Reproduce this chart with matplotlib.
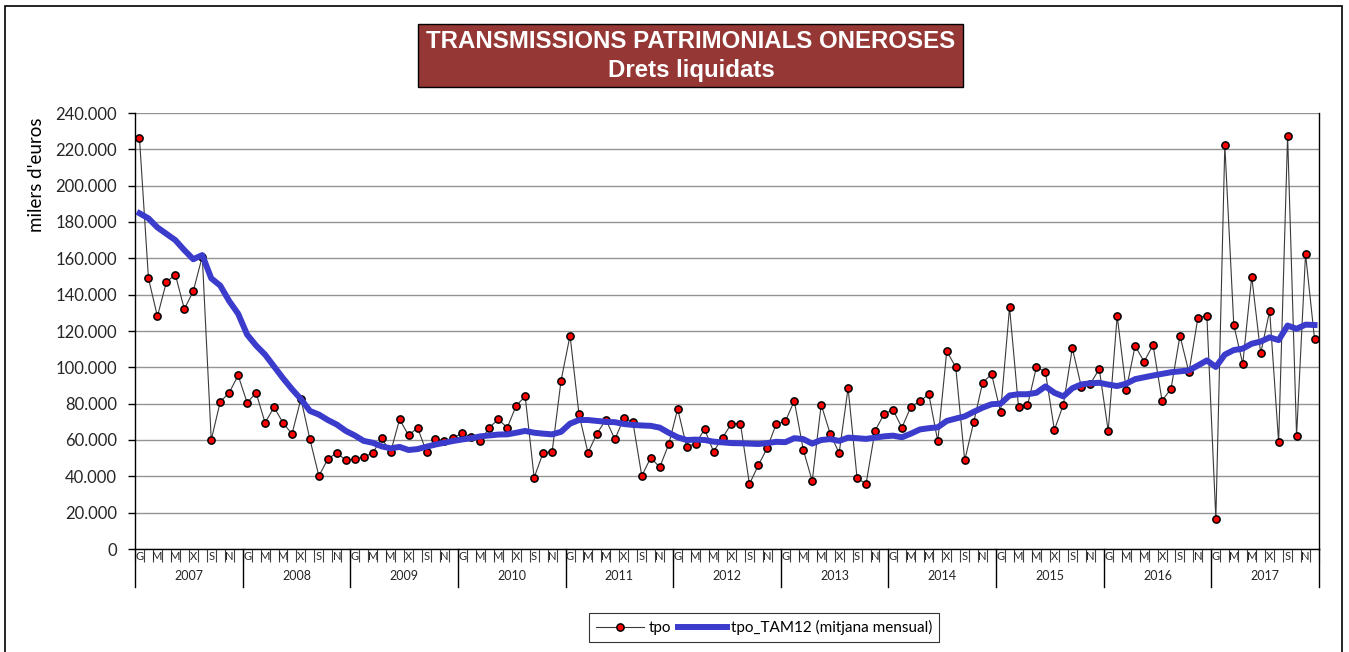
import matplotlib
matplotlib.use('Agg')
import matplotlib.pyplot as plt
import numpy as np
from matplotlib.patches import Rectangle
from matplotlib.lines import Line2D
from matplotlib.ticker import FuncFormatter

# ---------------- data ----------------
years = list(range(2007, 2018))
month_labels = ['G', '', 'M', '', 'M', '', 'X', '', 'S', '', 'N', '']

tpo = [
    226.0, 149.0, 128.0, 147.0, 151.0, 132.0, 142.0, 161.0, 60.0, 81.0, 86.0, 95.6,
    80.5, 86.0, 69.5, 78.0, 69.5, 63.3, 82.6, 60.4, 40.2, 49.5, 53.0, 48.8,
    49.5, 50.7, 52.8, 60.9, 53.4, 71.4, 62.5, 66.8, 53.4, 60.6, 59.5, 61.0,
    64.0, 61.5, 59.5, 66.8, 71.4, 66.8, 78.9, 84.0, 39.3, 53.0, 53.4, 92.7,
    117.5, 74.1, 53.0, 63.5, 71.2, 60.4, 71.9, 70.1, 40.2, 50.3, 45.0, 57.6,
    77.1, 56.3, 58.0, 65.9, 53.6, 61.3, 69.0, 69.0, 35.8, 46.1, 55.8, 69.0,
    70.2, 81.5, 54.7, 37.4, 79.5, 63.5, 52.8, 88.6, 39.1, 35.8, 65.0, 74.2,
    76.7, 66.8, 78.3, 81.3, 85.2, 59.3, 108.8, 100.2, 48.8, 69.7, 91.6, 96.2,
    75.4, 133.0, 78.3, 79.0, 100.2, 97.4, 65.5, 79.5, 110.5, 89.4, 90.8, 99.1,
    65.0, 128.4, 87.5, 111.8, 103.1, 112.3, 81.7, 88.1, 117.4, 97.2, 127.3, 128.4,
    16.5, 222.4, 123.3, 101.9, 149.9, 107.7, 131.1, 58.7, 227.5, 62.2, 162.4, 115.8,
]

tpo_tam12 = [
    184.8, 182.0, 177.0, 173.5, 170.0, 164.5, 159.5, 161.8, 149.0, 145.0, 136.5, 129.5,
    118.0, 112.0, 107.0, 100.5, 94.0, 88.0, 82.5, 76.0, 74.0, 71.0, 68.5, 65.0,
    62.5, 59.5, 58.5, 56.5, 55.4, 56.2, 54.5, 55.0, 56.3, 57.5, 58.5, 59.5,
    60.3, 61.0, 62.0, 62.5, 63.0, 63.1, 64.0, 65.0, 64.0, 63.5, 63.1, 64.5,
    69.0, 71.0, 71.0, 70.5, 70.0, 69.8, 68.8, 68.3, 68.0, 67.8, 66.8, 64.0,
    61.5, 60.0, 60.2, 60.0, 59.1, 58.7, 58.3, 58.2, 58.0, 57.8, 58.3, 59.0,
    58.8, 61.0, 60.5, 58.0, 60.0, 60.5, 59.5, 61.3, 61.0, 60.6, 61.3, 62.0,
    62.4, 61.5, 63.5, 65.8, 66.5, 67.0, 70.5, 71.8, 73.0, 75.5, 77.8, 79.7,
    80.0, 84.5, 85.2, 85.2, 86.0, 89.5, 86.0, 84.0, 88.5, 90.6, 91.2, 91.5,
    90.5, 89.7, 91.0, 93.5, 94.5, 95.5, 96.4, 97.3, 97.8, 98.3, 101.0, 103.8,
    100.2, 107.0, 109.5, 110.3, 113.0, 114.2, 116.5, 115.0, 123.0, 121.2, 123.5, 123.3,
]

tpo_vals = np.array(tpo) * 1000
tam_vals = np.array(tpo_tam12) * 1000

# ---------------- figure ----------------
W, H = 1349, 652
plt.rcParams['font.family'] = ['Lato', 'DejaVu Sans']
fig = plt.figure(figsize=(W / 100, H / 100), dpi=100)


def fx(px):
    return px / W


def fy(py):
    return 1 - py / H


ax_l, ax_r, ax_t, ax_b = 135, 1319, 113, 549
ax = fig.add_axes([fx(ax_l), fy(ax_b), fx(ax_r) - fx(ax_l), fy(ax_t) - fy(ax_b)])
ax_h_px = ax_b - ax_t

n = len(tpo_vals)
x = np.arange(n)
ax.plot(x, tpo_vals, color='#3a3a3a', lw=0.8, marker='o', ms=5.2,
        mfc='#ff0000', mec='black', mew=1.1, zorder=3)
ax.plot(x, tam_vals, color='#3b3bcc', lw=4.3, zorder=4)

ax.set_xlim(-0.5, n - 0.5)
ax.set_ylim(0, 240000)
ax.set_yticks(np.arange(0, 240001, 20000))
ax.yaxis.set_major_formatter(FuncFormatter(lambda v, p: f'{int(v):,}'.replace(',', '.')))
ax.grid(axis='y', color='#949494', lw=1.0)
ax.set_axisbelow(True)

ax.spines['top'].set_visible(False)
for s in ['left', 'bottom', 'right']:
    ax.spines[s].set_color('black')
    ax.spines[s].set_linewidth(1.0)

ax.tick_params(axis='y', direction='out', length=5, width=1, color='black',
               pad=8, labelsize=12, labelcolor='#262626')

# month boundary ticks
ax.set_xticks(np.arange(-0.5, n, 1))
ax.set_xticklabels([])
ax.tick_params(axis='x', direction='out', length=9.5, width=0.8, color='#404040')

trans = ax.get_xaxis_transform()
# month labels
for i in range(n):
    lab = month_labels[i % 12]
    if lab:
        ax.text(i, -7 / ax_h_px, lab, transform=trans, ha='center', va='center',
                fontsize=8, color='#262626', clip_on=False)
# year separators and labels
for k, yr in enumerate(years):
    ax.text(k * 12 + 5.5, -27 / ax_h_px, str(yr), transform=trans, ha='center',
            va='center', fontsize=9, color='#262626', clip_on=False)
for k in range(len(years) + 1):
    ax.plot([k * 12 - 0.5, k * 12 - 0.5], [0, -38 / ax_h_px], transform=trans,
            color='black', lw=1.0, clip_on=False)

# y label
fig.text(fx(37), fy(175), "milers d'euros", rotation=90, ha='center', va='center',
         fontsize=13.5, color='black')

# title box
fig.patches.append(Rectangle((fx(418), fy(87)), fx(963) - fx(418), fy(24) - fy(87),
                             transform=fig.transFigure, fc='#953735', ec='black', lw=1.0))
fig.text(fx(691), fy(42), 'TRANSMISSIONS PATRIMONIALS ONEROSES', ha='center', va='center',
         color='white', fontweight='bold', fontsize=17.3, family=['Liberation Sans'])
fig.text(fx(691), fy(70), 'Drets liquidats', ha='center', va='center',
         color='white', fontweight='bold', fontsize=17.3, family=['Liberation Sans'])

# outer border
fig.patches.append(Rectangle((fx(5), fy(720)), fx(1342) - fx(5), fy(6) - fy(720),
                             transform=fig.transFigure, fill=False, ec='black', lw=1.2))

# legend
handles = [
    Line2D([], [], color='#3a3a3a', lw=0.8, marker='o', ms=5.2, mfc='#ff0000',
           mec='black', mew=1.1),
    Line2D([], [], color='#3b3bcc', lw=4.3),
]
leg = fig.legend(handles, ['tpo', 'tpo_TAM12 (mitjana mensual)'], loc='center',
                 bbox_to_anchor=(fx(764), fy(627.5)), ncol=2, frameon=True,
                 fancybox=False, edgecolor='black', fontsize=11, handlelength=3.2,
                 columnspacing=0.4, handletextpad=0.3, borderpad=0.45, numpoints=1)
leg.get_frame().set_linewidth(0.8)

fig.savefig('out.png', dpi=100)
